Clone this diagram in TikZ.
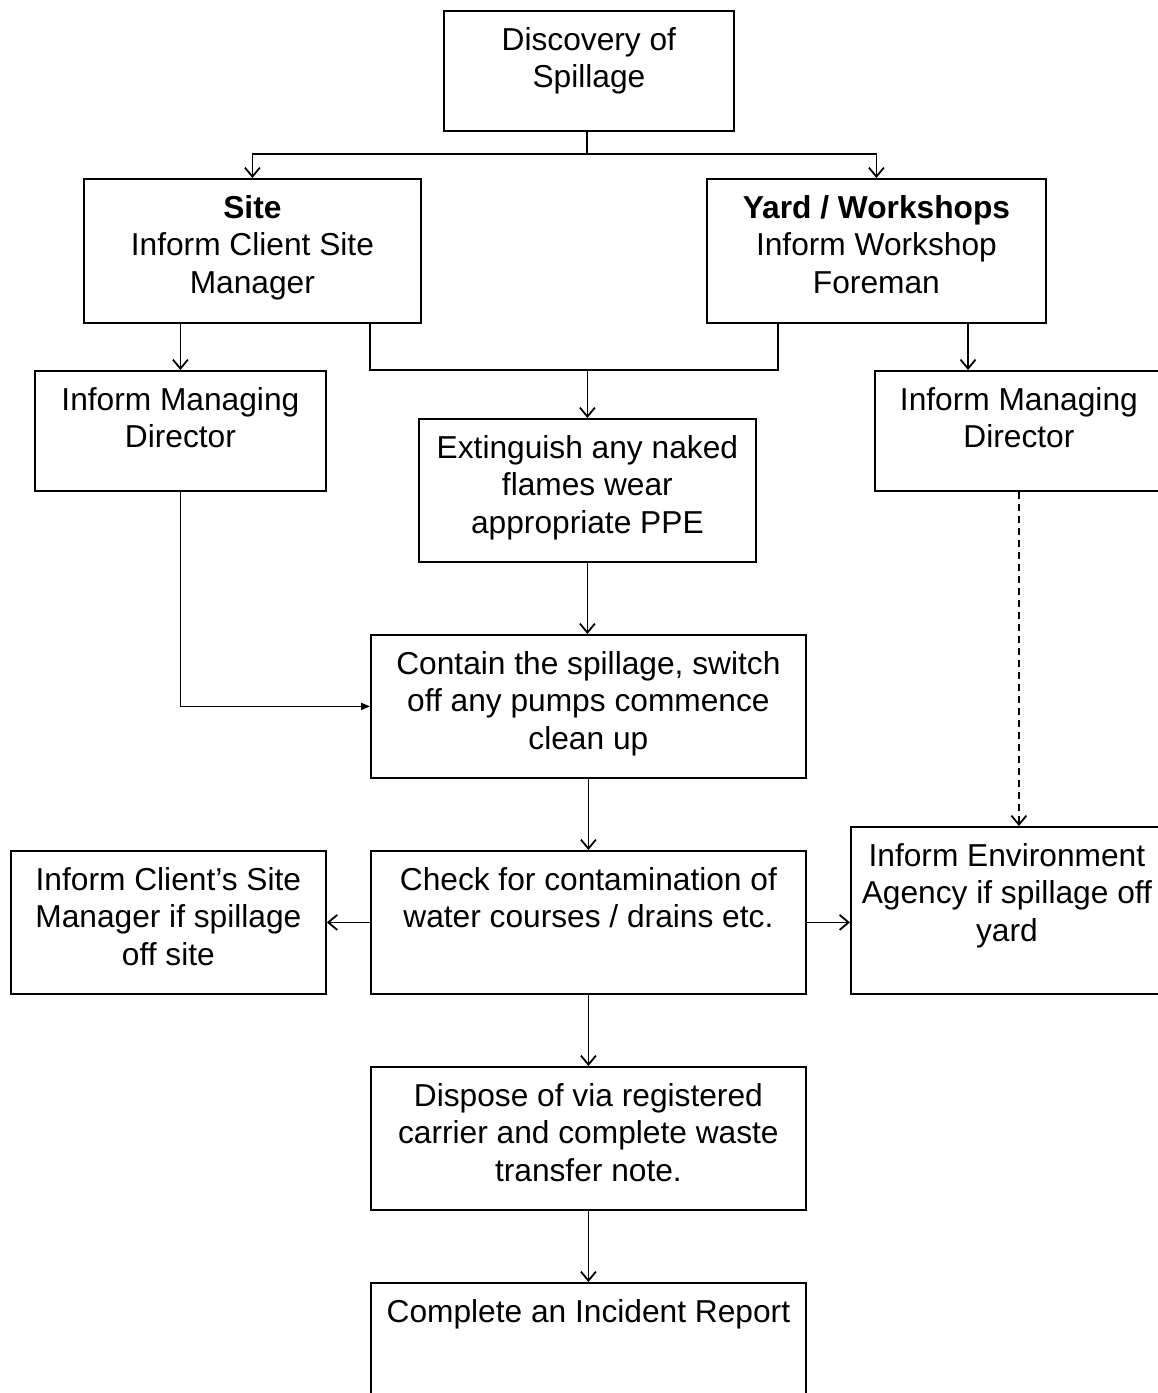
\documentclass[tikz,border=0pt]{standalone}
\usepackage{fontspec}
\setmainfont{Liberation Sans}
\usetikzlibrary{arrows.meta}
\newcommand{\boxtext}[1]{\parbox[t]{600pt}{\centering #1}}
\begin{document}
\begin{tikzpicture}[x=1pt,y=-1pt,
  box/.style={draw, line width=1.8pt, inner sep=0pt, anchor=north west},
  txt/.style={anchor=base, inner sep=0pt, yshift=-40pt, font=\fontsize{31.7}{37.5}\selectfont},
  conn/.style={line width=1.8pt},
  arr/.style={conn, -{Straight Barb[length=9pt,width=15pt,line width=1.8pt]}},
  arrsmall/.style={conn, -{Triangle[length=9pt,width=7pt]}},
  dashedconn/.style={conn, dash pattern=on 7pt off 5pt, -{Straight Barb[length=9pt,width=15pt,line width=1.8pt]}}
]
\useasboundingbox (0,0) rectangle (1158,1393);
\clip (0,0) rectangle (1158,1393);

% boxes
\node[box, minimum width=290pt, minimum height=120pt] (disc) at (443,10) {};
\node[box, minimum width=337pt, minimum height=144pt] (site) at (83,178) {};
\node[box, minimum width=339pt, minimum height=144pt] (yard) at (706,178) {};
\node[box, minimum width=291pt, minimum height=120pt] (lmd) at (34,370) {};
\node[box, minimum width=288pt, minimum height=120pt] (rmd) at (874,370) {};
\node[box, minimum width=337pt, minimum height=143pt] (ext) at (418,418) {};
\node[box, minimum width=435pt, minimum height=143pt] (cont) at (370,634) {};
\node[box, minimum width=435pt, minimum height=143pt] (check) at (370,850) {};
\node[box, minimum width=315pt, minimum height=143pt] (lcl) at (10,850) {};
\node[box, minimum width=312pt, minimum height=167pt] (env) at (850,826) {};
\node[box, minimum width=435pt, minimum height=143pt] (disp) at (370,1066) {};
\node[box, minimum width=435pt, minimum height=143pt] (inc) at (370,1282) {};

% texts
\node[txt] (tdisc) at (disc.north) {\boxtext{Discovery of\\Spillage}};
\node[txt] (tsite) at (site.north) {\boxtext{\textbf{Site}\\Inform Client Site\\Manager}};
\node[txt] (tyard) at (yard.north) {\boxtext{\textbf{Yard / Workshops}\\Inform Workshop\\Foreman}};
\node[txt] (tlmd) at (lmd.north) {\boxtext{Inform Managing\\Director}};
\node[txt] (trmd) at (rmd.north) {\boxtext{Inform Managing\\Director}};
\node[txt] (text) at (ext.north) {\boxtext{Extinguish any naked\\flames wear\\appropriate PPE}};
\node[txt] (tcont) at (cont.north) {\boxtext{Contain the spillage, switch\\off any pumps commence\\clean up}};
\node[txt] (tcheck) at (check.north) {\boxtext{Check for contamination of\\water courses / drains etc.}};
\node[txt] (tlcl) at (lcl.north) {\boxtext{Inform Client’s Site\\Manager if spillage\\off site}};
\node[txt] (tenv) at (env.north) {\boxtext{Inform Environment\\Agency if spillage off\\yard}};
\node[txt] (tdisp) at (disp.north) {\boxtext{Dispose of via registered\\carrier and complete waste\\transfer note.}};
\node[txt] (tinc) at (inc.north) {\boxtext{Complete an Incident Report}};

% connectors
\coordinate (j1) at (587,154);
\draw[conn] (disc.south -| j1) -- (j1);
\draw[arr] (j1) -| (site.north);
\draw[arr] (j1) -| (yard.north);

\draw[arr] (lmd.north |- site.south) -- (lmd.north);

\coordinate (m1) at (370,370);
\coordinate (m2) at (778,370);
\draw[conn] (site.south -| m1) -- (m1) -- (m2) -- (yard.south -| m2);
\draw[arr] (ext.north |- m1) -- (ext.north);

\coordinate (ry) at (968,370);
\draw[arr] (yard.south -| ry) -- (ry);

\draw[arr] (ext.south) -- (ext.south |- cont.north);
\draw[arrsmall] (lmd.south) |- (cont.west);
\draw[dashedconn] (rmd.south) -- (rmd.south |- env.north);

\draw[arr] (cont.south) -- (check.north);
\draw[arr] (check.west) -- (lcl.east);
\draw[arr] (check.east) -- (check.east -| env.west);
\draw[arr] (check.south) -- (disp.north);
\draw[arr] (disp.south) -- (inc.north);
\end{tikzpicture}
\end{document}
